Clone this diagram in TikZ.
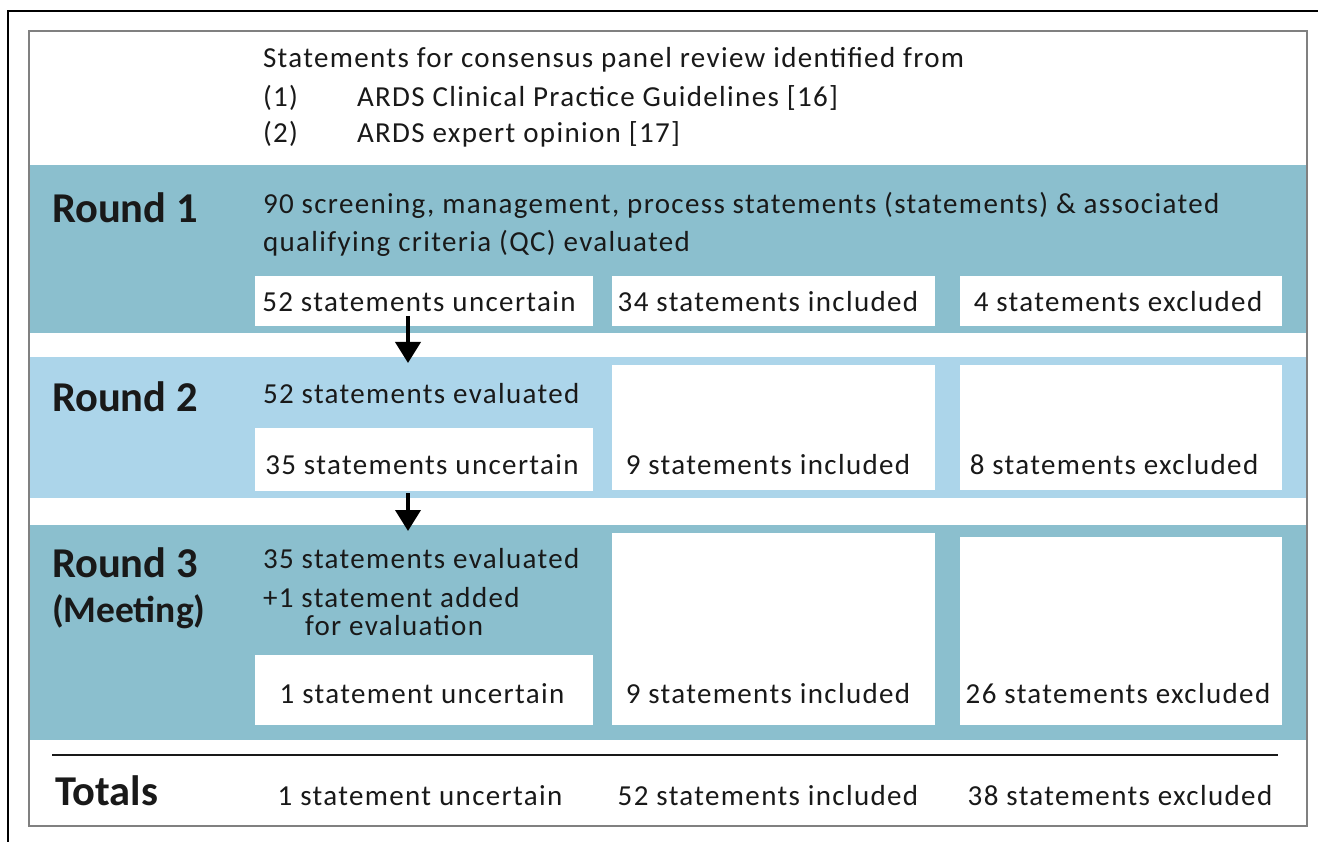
\documentclass[tikz,border=0pt]{standalone}
\usepackage{fontspec}
\setmainfont{Carlito}
\newfontfamily\bodyfont{Carlito}[LetterSpace=4.65]
\usetikzlibrary{arrows.meta}
\definecolor{darkband}{RGB}{139,191,206}
\definecolor{lightband}{RGB}{172,213,234}
\definecolor{txt}{RGB}{25,25,25}
\definecolor{framegray}{RGB}{128,128,128}
\tikzset{
  every node/.style={inner sep=0pt, outer sep=0pt, text=txt},
  body/.style={font=\bodyfont\fontsize{29}{33}\selectfont, anchor=base west},
  bodyc/.style={font=\bodyfont\fontsize{29}{33}\selectfont, anchor=base},
  roundlbl/.style={font=\fontsize{42.5}{46}\selectfont\bfseries, anchor=base west},
  meetlbl/.style={font=\fontsize{37.5}{42}\selectfont\bfseries, anchor=base west},
  wbox/.style={fill=white, draw=none, rectangle},
  arr/.style={line width=4pt, -{Triangle[width=25pt,length=21pt]}, black}
}
\begin{document}
\begin{tikzpicture}[x=1pt,y=-1pt]
\useasboundingbox (0,0) rectangle (1318,842);
\fill[white] (0,0) rectangle (1318,842);
% outer crop lines
\draw[line width=1.5pt, black] (8,842) -- (8,11) -- (1318,11);
% bands
\fill[darkband] (29,165) rectangle (1307,333);
\fill[lightband] (29,357) rectangle (1307,498);
\fill[darkband] (29,525) rectangle (1307,740);
% inner frame
\draw[line width=2pt, framegray] (29,31) rectangle (1307,826);

% header
\node[body] (h0) at (263,68) {Statements for consensus panel review identified from};
\node[body] (h1n) at (263,107) {(1)};
\node[body] (h1) at (357,107) {ARDS Clinical Practice Guidelines [16]};
\node[body] (h2n) at (263,143) {(2)};
\node[body] (h2) at (357,143) {ARDS expert opinion [17]};

% Round 1
\node[roundlbl] (r1l) at (52,223) {Round 1};
\node[body] (r1t1) at (263,214) {90 screening, management, process statements (statements) \& associated};
\node[body] (r1t2) at (263,252) {qualifying criteria (QC) evaluated};
\node[wbox, minimum width=338pt, minimum height=50pt] (r1a) at (424,301) {};
\node[wbox, minimum width=323pt, minimum height=50pt] (r1b) at (773.5,301) {};
\node[wbox, minimum width=322pt, minimum height=50pt] (r1c) at (1121,301) {};
\node[bodyc] (r1at) at (419,312) {52 statements uncertain};
\node[bodyc] (r1bt) at (768,312) {34 statements included};
\node[bodyc] (r1ct) at (1118,312) {4 statements excluded};

% Round 2
\node[roundlbl] (r2l) at (52,412) {Round 2};
\node[body] (r2t1) at (263,403) {52 statements evaluated};
\node[wbox, minimum width=338pt, minimum height=63pt] (r2a) at (424,459.5) {};
\node[wbox, minimum width=323pt, minimum height=125pt] (r2b) at (773.5,427.5) {};
\node[wbox, minimum width=322pt, minimum height=125pt] (r2c) at (1121,427.5) {};
\node[bodyc] (r2at) at (422,474) {35 statements uncertain};
\node[bodyc] (r2bt) at (768,474) {9 statements included};
\node[bodyc] (r2ct) at (1114,474) {8 statements excluded};

% Round 3
\node[roundlbl] (r3l) at (52,577) {Round 3};
\node[meetlbl] (r3m) at (52,622) {(Meeting)};
\node[body] (r3t1) at (263,568) {35 statements evaluated};
\node[body] (r3t2) at (263,607) {+1 statement added};
\node[body] (r3t3) at (305,635) {for evaluation};
\node[wbox, minimum width=338pt, minimum height=70pt] (r3a) at (424,690) {};
\node[wbox, minimum width=323pt, minimum height=192pt] (r3b) at (773.5,629) {};
\node[wbox, minimum width=322pt, minimum height=188pt] (r3c) at (1121,631) {};
\node[bodyc] (r3at) at (422,703) {1 statement uncertain};
\node[bodyc] (r3bt) at (768,703) {9 statements included};
\node[bodyc] (r3ct) at (1118,703) {26 statements excluded};

% Totals
\draw[line width=2pt, txt] (52,755) -- (1278,755);
\node[roundlbl] (totl) at (55,805) {Totals};
\node[bodyc] (tota) at (420,805) {1 statement uncertain};
\node[bodyc] (totb) at (768,805) {52 statements included};
\node[bodyc] (totc) at (1120,805) {38 statements excluded};

% arrows
\coordinate (a1end) at (408,363);
\coordinate (a2end) at (408,531);
\draw[arr] ([yshift=10pt]r1a.south -| a1end) -- (a1end);
\draw[arr] ([yshift=-2pt]r2a.south -| a2end) -- (a2end);
\end{tikzpicture}
\end{document}
